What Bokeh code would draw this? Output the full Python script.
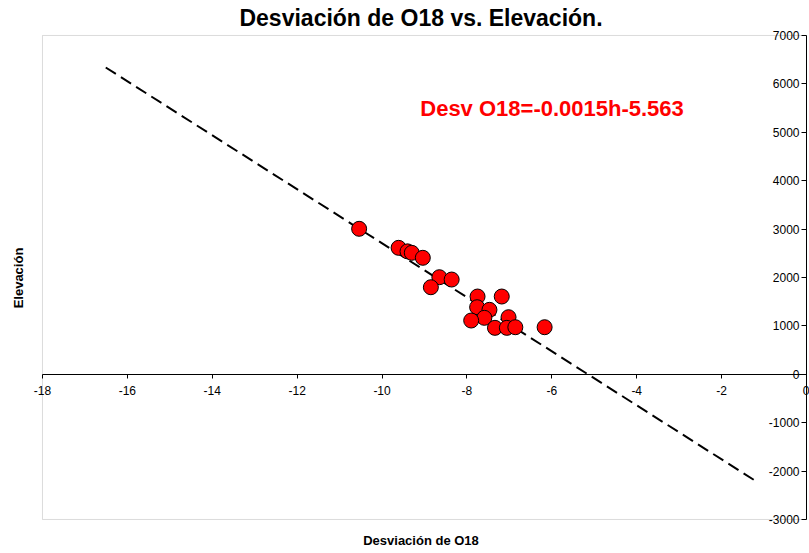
from bokeh.plotting import figure
from bokeh.models import (LinearAxis, FixedTicker, Label, ColumnDataSource, Title,
                          PrintfTickFormatter, BoxAnnotation)
from bokeh.embed import file_html
from bokeh.resources import INLINE

# ---- data ----
desv_o18 = [-10.54, -9.61, -9.40, -9.30, -9.04, -8.65, -8.36, -8.85,
            -7.75, -7.18, -7.76, -7.47, -7.59, -7.90, -7.02,
            -7.34, -7.06, -6.86, -6.17]
elevacion = [3006, 2613, 2540, 2510, 2407, 2006, 1958, 1799,
             1607, 1607, 1386, 1332, 1167, 1111, 1180,
             960, 960, 973, 973]

trend_x = [-16.51, -1.18]
trend_y = [6339, -2215]

x_ticks = [-18, -16, -14, -12, -10, -8, -6, -4, -2, 0]
y_ticks = [-3000, -2000, -1000, 0, 1000, 2000, 3000, 4000, 5000, 6000, 7000]
x_bounds = (-18, 0)
y_bounds = (-3000, 7000)

title_text = "Desviación de O18 vs. Elevación."
x_title = "Desviación de O18"
y_title = "Elevación"
equation = "Desv O18=-0.0015h-5.563"

FONT = "Liberation Sans"

# frame slightly larger than the axis box so that end tick labels are not clipped
p = figure(width=809, height=553, x_range=(-18.2356, 0.0707), y_range=(-3124.0, 7103.3),
           output_backend="svg", toolbar_location=None,
           x_axis_location=None, y_axis_location=None,
           min_border_left=32, min_border_right=0,
           min_border_top=30, min_border_bottom=28)
p.title.visible = False
p.xgrid.visible = False
p.ygrid.visible = False
p.outline_line_color = None
p.background_fill_color = "white"
p.border_fill_color = "white"

# grey plot-area border
p.add_layout(BoxAnnotation(left=x_bounds[0], right=x_bounds[1],
                           bottom=y_bounds[0], top=y_bounds[1],
                           fill_alpha=0, line_color="#8a8a8a", line_width=1,
                           level="underlay"))

# titles
p.add_layout(Title(text=title_text, align="center", standoff=0,
                   text_font=FONT, text_font_size="23px",
                   text_font_style="bold", text_color="black"), "above")
p.add_layout(Title(text=x_title, align="center", standoff=10,
                   text_font=FONT, text_font_size="13px",
                   text_font_style="bold", text_color="black"), "below")
p.add_layout(Title(text=y_title, align="center", standoff=13,
                   text_font=FONT, text_font_size="13px",
                   text_font_style="bold", text_color="black"), "left")

# axes crossing at the origin
xaxis = LinearAxis(fixed_location=0, ticker=FixedTicker(ticks=x_ticks),
                   formatter=PrintfTickFormatter(format="%d"), bounds=x_bounds)
xaxis.major_tick_out = 4
xaxis.major_tick_in = 0
xaxis.minor_tick_out = 0
xaxis.minor_tick_in = 0
xaxis.major_label_standoff = 8
xaxis.major_label_text_font = FONT
xaxis.major_label_text_font_size = "12px"
xaxis.major_label_text_color = "black"
xaxis.axis_line_color = "black"
xaxis.major_tick_line_color = "black"
p.add_layout(xaxis, "below")

yaxis = LinearAxis(fixed_location=0, ticker=FixedTicker(ticks=y_ticks),
                   formatter=PrintfTickFormatter(format="%d"), bounds=y_bounds)
yaxis.major_tick_out = 5
yaxis.major_tick_in = 0
yaxis.minor_tick_out = 0
yaxis.minor_tick_in = 0
yaxis.major_label_standoff = 2
yaxis.major_label_text_font = FONT
yaxis.major_label_text_font_size = "12px"
yaxis.major_label_text_color = "black"
yaxis.axis_line_color = "black"
yaxis.major_tick_line_color = "black"
p.add_layout(yaxis, "left")

# trend line
p.line(trend_x, trend_y, line_color="black", line_width=2, line_dash="12 6")

# points
src = ColumnDataSource(data=dict(x=desv_o18, y=elevacion))
p.scatter("x", "y", source=src, size=15, marker="circle",
          fill_color="#ff0000", line_color="black", line_width=1)

# regression equation
p.add_layout(Label(x=-9.1, y=5490, text=equation, text_align="left",
                   text_baseline="middle", text_font=FONT,
                   text_font_size="22px", text_font_style="bold",
                   text_color="#ff0000"))

open("out.html", "w").write(file_html(p, INLINE))
